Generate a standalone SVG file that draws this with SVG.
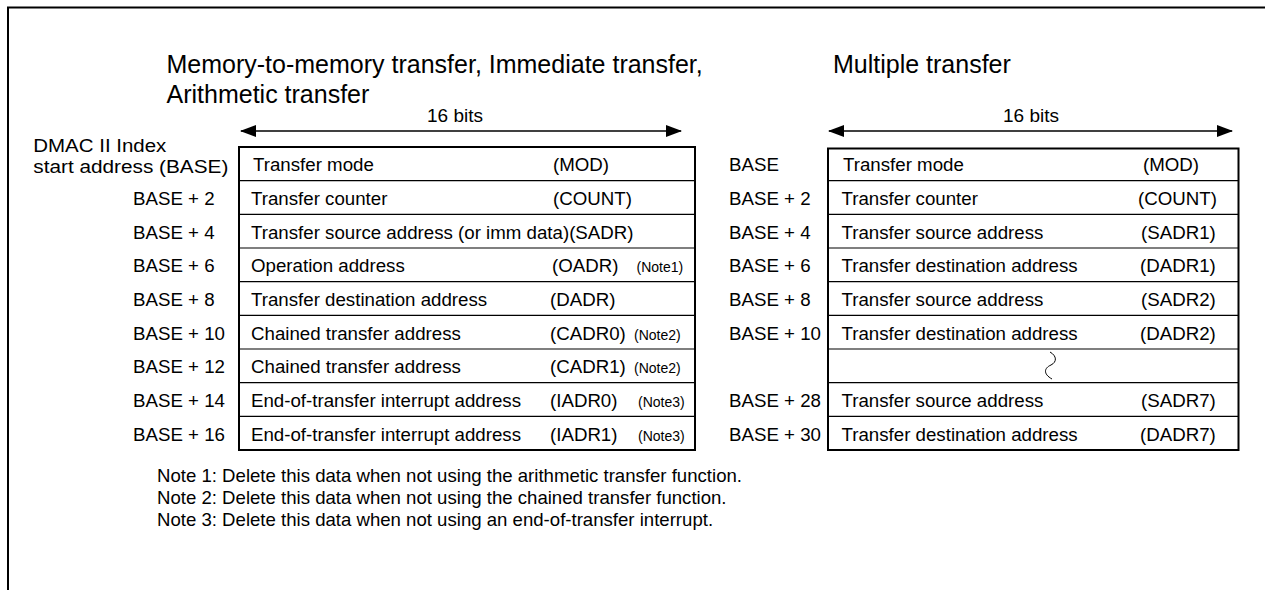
<svg xmlns="http://www.w3.org/2000/svg" width="1265" height="590" viewBox="0 0 1265 590">
<style>
text{font-family:"Liberation Sans",Arial,Helvetica,sans-serif;fill:#000}
.t{font-size:18.7px}
.h{font-size:25px}
.s{font-size:14px}
.n{font-size:18.6px}
.b{font-size:19px}
.box{fill:#fff;stroke:#000;stroke-width:2}
.row{stroke:#000;stroke-width:1.2;fill:none}
.dim{stroke:#000;stroke-width:1.5;fill:none}
</style>
<defs>
<marker id="ah" viewBox="0 0 16 12" refX="15" refY="6" markerWidth="16" markerHeight="12" markerUnits="userSpaceOnUse" orient="auto-start-reverse">
<path d="M0,0 L16,6 L0,12 Z" fill="#000"/>
</marker>
</defs>
<rect width="1265" height="590" fill="#fff"/>
<g id="frame">
<path d="M8,590 V7.5 H1265" fill="none" stroke="#000" stroke-width="2"/>
</g>
<g id="titles">
<text class="h" x="166.5" y="73">Memory-to-memory transfer, Immediate transfer,</text>
<text class="h" x="166.5" y="103">Arithmetic transfer</text>
<text class="h" x="833" y="73">Multiple transfer</text>
</g>
<g id="connectors">
<line class="dim" x1="241" y1="131" x2="681" y2="131" marker-start="url(#ah)" marker-end="url(#ah)"/>
<line class="dim" x1="829" y1="131" x2="1232" y2="131" marker-start="url(#ah)" marker-end="url(#ah)"/>
<text class="b" x="455" y="121.7" text-anchor="middle">16 bits</text>
<text class="b" x="1031" y="121.7" text-anchor="middle">16 bits</text>
</g>
<g id="left-table">
<rect class="box" x="239" y="147" width="456" height="303"/>
<g class="rowlines">
<line class="row" x1="239" y1="180.7" x2="695" y2="180.7"/>
<line class="row" x1="239" y1="214.3" x2="695" y2="214.3"/>
<line class="row" x1="239" y1="248" x2="695" y2="248"/>
<line class="row" x1="239" y1="281.7" x2="695" y2="281.7"/>
<line class="row" x1="239" y1="315.3" x2="695" y2="315.3"/>
<line class="row" x1="239" y1="349" x2="695" y2="349"/>
<line class="row" x1="239" y1="382.7" x2="695" y2="382.7"/>
<line class="row" x1="239" y1="416.3" x2="695" y2="416.3"/>
</g>
<g id="L-label-base">
<text class="t" x="33.3" y="151.7" textLength="133" lengthAdjust="spacingAndGlyphs">DMAC II Index</text>
<text class="t" x="33.3" y="173.3" textLength="195" lengthAdjust="spacingAndGlyphs">start address (BASE)</text>
</g>
<g id="L-row0"><text class="t" x="253" y="171.3">Transfer mode</text><text class="t" x="553" y="171.3">(MOD)</text></g>
<g id="L-row1"><text class="t" x="133" y="205">BASE + 2</text><text class="t" x="251" y="205">Transfer counter</text><text class="t" x="553" y="205">(COUNT)</text></g>
<g id="L-row2"><text class="t" x="133" y="238.7">BASE + 4</text><text class="t" x="251" y="238.7">Transfer source address (or imm data)(SADR)</text></g>
<g id="L-row3"><text class="t" x="133" y="272.3">BASE + 6</text><text class="t" x="251" y="272.3">Operation address</text><text class="t" x="552" y="272.3">(OADR)</text><text class="s" x="636.5" y="272.3">(Note1)</text></g>
<g id="L-row4"><text class="t" x="133" y="306">BASE + 8</text><text class="t" x="251" y="306">Transfer destination address</text><text class="t" x="550" y="306">(DADR)</text></g>
<g id="L-row5"><text class="t" x="133" y="339.7">BASE + 10</text><text class="t" x="251" y="339.7">Chained transfer address</text><text class="t" x="550" y="339.7">(CADR0)</text><text class="s" x="634" y="339.7">(Note2)</text></g>
<g id="L-row6"><text class="t" x="133" y="373.3">BASE + 12</text><text class="t" x="251" y="373.3">Chained transfer address</text><text class="t" x="550" y="373.3">(CADR1)</text><text class="s" x="634" y="373.3">(Note2)</text></g>
<g id="L-row7"><text class="t" x="133" y="407">BASE + 14</text><text class="t" x="251" y="407">End-of-transfer interrupt address</text><text class="t" x="550" y="407">(IADR0)</text><text class="s" x="638" y="407">(Note3)</text></g>
<g id="L-row8"><text class="t" x="133" y="440.7">BASE + 16</text><text class="t" x="251" y="440.7">End-of-transfer interrupt address</text><text class="t" x="550" y="440.7">(IADR1)</text><text class="s" x="638" y="440.7">(Note3)</text></g>
</g>
<g id="right-table">
<rect class="box" x="828" y="148.5" width="410.5" height="301.5"/>
<g class="rowlines">
<line class="row" x1="828" y1="180.7" x2="1238.5" y2="180.7"/>
<line class="row" x1="828" y1="214.3" x2="1238.5" y2="214.3"/>
<line class="row" x1="828" y1="248" x2="1238.5" y2="248"/>
<line class="row" x1="828" y1="281.7" x2="1238.5" y2="281.7"/>
<line class="row" x1="828" y1="315.3" x2="1238.5" y2="315.3"/>
<line class="row" x1="828" y1="349" x2="1238.5" y2="349"/>
<line class="row" x1="828" y1="382.7" x2="1238.5" y2="382.7"/>
<line class="row" x1="828" y1="416.3" x2="1238.5" y2="416.3"/>
</g>
<g id="R-row0"><text class="t" x="729" y="171.3">BASE</text><text class="t" x="843" y="171.3">Transfer mode</text><text class="t" x="1143" y="171.3">(MOD)</text></g>
<g id="R-row1"><text class="t" x="729" y="205">BASE + 2</text><text class="t" x="841.5" y="205">Transfer counter</text><text class="t" x="1138" y="205">(COUNT)</text></g>
<g id="R-row2"><text class="t" x="729" y="238.7">BASE + 4</text><text class="t" x="841.5" y="238.7">Transfer source address</text><text class="t" x="1141" y="238.7">(SADR1)</text></g>
<g id="R-row3"><text class="t" x="729" y="272.3">BASE + 6</text><text class="t" x="841.5" y="272.3">Transfer destination address</text><text class="t" x="1140" y="272.3">(DADR1)</text></g>
<g id="R-row4"><text class="t" x="729" y="306">BASE + 8</text><text class="t" x="841.5" y="306">Transfer source address</text><text class="t" x="1141" y="306">(SADR2)</text></g>
<g id="R-row5"><text class="t" x="729" y="339.7">BASE + 10</text><text class="t" x="841.5" y="339.7">Transfer destination address</text><text class="t" x="1140" y="339.7">(DADR2)</text></g>
<g id="R-row6"><path d="M1050,352 C1057,356 1057,362 1051,365 C1044,368 1043,374 1052,379" fill="none" stroke="#000" stroke-width="1"/></g>
<g id="R-row7"><text class="t" x="729" y="407">BASE + 28</text><text class="t" x="841.5" y="407">Transfer source address</text><text class="t" x="1141" y="407">(SADR7)</text></g>
<g id="R-row8"><text class="t" x="729" y="440.7">BASE + 30</text><text class="t" x="841.5" y="440.7">Transfer destination address</text><text class="t" x="1140" y="440.7">(DADR7)</text></g>
</g>
<g id="notes">
<text class="n" x="157" y="482">Note 1: Delete this data when not using the arithmetic transfer function.</text>
<text class="n" x="157" y="504">Note 2: Delete this data when not using the chained transfer function.</text>
<text class="n" x="157" y="526">Note 3: Delete this data when not using an end-of-transfer interrupt.</text>
</g>
</svg>
